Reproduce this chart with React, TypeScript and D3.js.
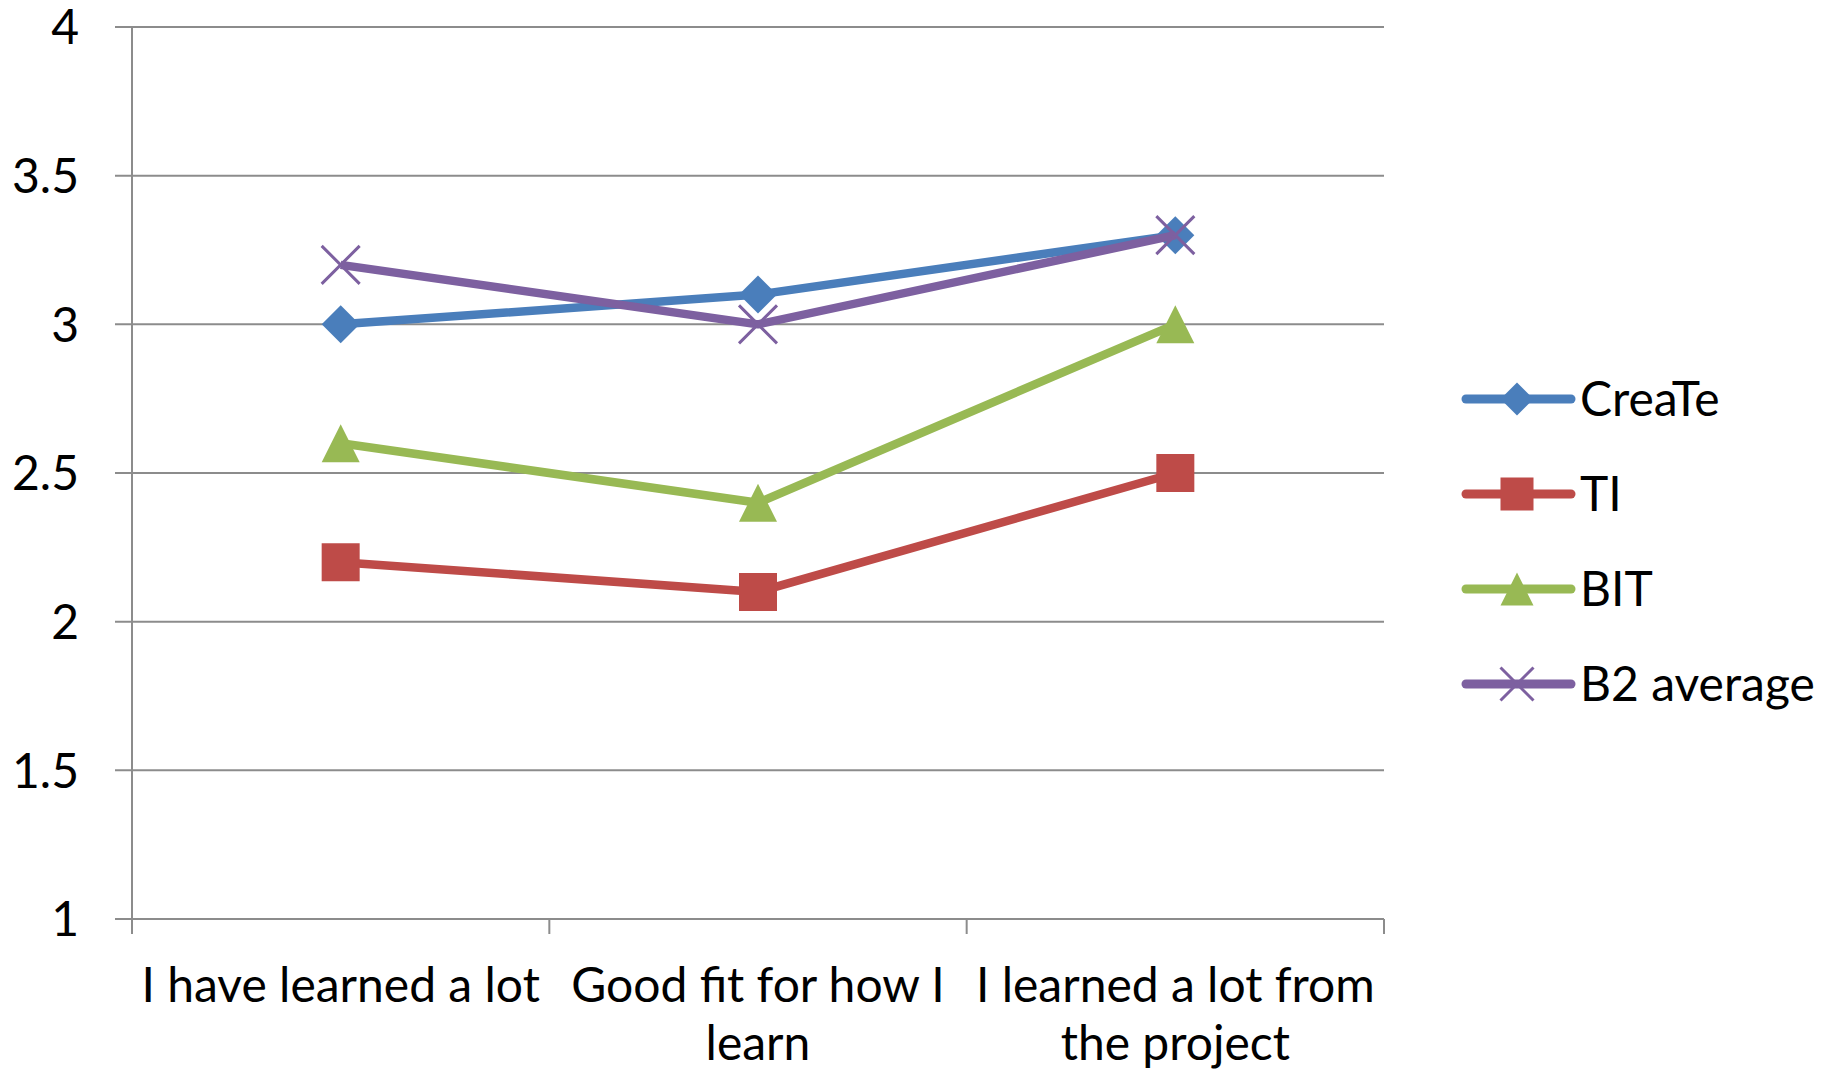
import { useEffect } from 'react'
import * as d3 from 'd3'

const CATEGORIES = ['I have learned a lot', 'Good fit for how I learn', 'I learned a lot from the project']
const CATEGORY_LINES = [['I have learned a lot'], ['Good fit for how I', 'learn'], ['I learned a lot from', 'the project']]
const CREATE = [3.0, 3.1, 3.3]
const TI = [2.2, 2.1, 2.5]
const BIT = [2.6, 2.4, 3.0]
const B2_AVERAGE = [3.2, 3.0, 3.3]
const Y_TICKS = [1, 1.5, 2, 2.5, 3, 3.5, 4]

const W = 1833
const H = 1075
const PLOT = { left: 132, right: 1384, top: 27, bottom: 919 }
const FONT = "Lato, 'Open Sans', sans-serif"
const FONT_SIZE = 48
const GRID = '#8c8c8c'

type Marker = 'diamond' | 'square' | 'triangle' | 'x'

const SERIES: { name: string; values: number[]; color: string; marker: Marker }[] = [
  { name: 'CreaTe', values: CREATE, color: '#4A7EBB', marker: 'diamond' },
  { name: 'TI', values: TI, color: '#BE4B48', marker: 'square' },
  { name: 'BIT', values: BIT, color: '#98B954', marker: 'triangle' },
  { name: 'B2 average', values: B2_AVERAGE, color: '#7D60A0', marker: 'x' },
]

function markerPath(m: Marker, s: number) {
  const r = s / 2
  if (m === 'diamond') return `M0,${-r}L${r},0L0,${r}L${-r},0Z`
  if (m === 'square') return `M${-r},${-r}H${r}V${r}H${-r}Z`
  if (m === 'triangle') return `M0,${-r}L${r},${r}L${-r},${r}Z`
  return `M${-r},${-r}L${r},${r}M${-r},${r}L${r},${-r}`
}

function MarkerShape({ m, color, size, x, y }: { m: Marker; color: string; size: number; x: number; y: number }) {
  const isX = m === 'x'
  return (
    <path
      d={markerPath(m, size)}
      transform={`translate(${x},${y})`}
      fill={isX ? 'none' : color}
      stroke={color}
      strokeWidth={isX ? 3 : 0}
    />
  )
}

export default function App() {
  useEffect(() => {
    document.body.style.margin = '0'
  }, [])

  const x = d3.scaleBand().domain(CATEGORIES).range([PLOT.left, PLOT.right])
  const y = d3.scaleLinear().domain([1, 4]).range([PLOT.bottom, PLOT.top])
  const cx = (i: number) => (x(CATEGORIES[i]) ?? 0) + x.bandwidth() / 2

  const line = d3
    .line<number>()
    .x((_, i) => cx(i))
    .y((d) => y(d))

  const boundaries = [...CATEGORIES.map((c) => x(c) ?? 0), PLOT.right]

  return (
    <svg width={W} height={H} style={{ display: 'block', background: '#fff' }} fontFamily={FONT}>
      {/* gridlines + y labels */}
      {Y_TICKS.map((t) => (
        <g key={t}>
          <line x1={PLOT.left - 17} x2={PLOT.right} y1={y(t)} y2={y(t)} stroke={GRID} strokeWidth={2} />
          <text x={79} y={y(t)} dy="0.36em" textAnchor="end" fontSize={FONT_SIZE} fill="#000">
            {t}
          </text>
        </g>
      ))}

      {/* y axis */}
      <line x1={PLOT.left} x2={PLOT.left} y1={PLOT.top} y2={PLOT.bottom} stroke={GRID} strokeWidth={2} />

      {/* x ticks */}
      {boundaries.map((bx, i) => (
        <line key={i} x1={bx} x2={bx} y1={PLOT.bottom} y2={PLOT.bottom + 15} stroke={GRID} strokeWidth={2} />
      ))}

      {/* x labels */}
      {CATEGORY_LINES.map((lines, i) => (
        <text key={i} textAnchor="middle" fontSize={FONT_SIZE} fill="#000">
          {lines.map((l, j) => (
            <tspan key={j} x={cx(i)} y={1002 + j * 58}>
              {l}
            </tspan>
          ))}
        </text>
      ))}

      {/* series */}
      {SERIES.map((s) => (
        <g key={s.name}>
          <path d={line(s.values) ?? ''} fill="none" stroke={s.color} strokeWidth={8.5} strokeLinejoin="round" />
          {s.values.map((v, i) => (
            <MarkerShape key={i} m={s.marker} color={s.color} size={38} x={cx(i)} y={y(v)} />
          ))}
        </g>
      ))}

      {/* legend */}
      {SERIES.map((s, i) => {
        const ly = 399 + i * 95
        return (
          <g key={s.name}>
            <line x1={1466} x2={1571} y1={ly} y2={ly} stroke={s.color} strokeWidth={9} strokeLinecap="round" />
            <MarkerShape m={s.marker} color={s.color} size={33} x={1517} y={ly} />
            <text x={1580} y={ly} dy="0.36em" fontSize={FONT_SIZE} fill="#000">
              {s.name}
            </text>
          </g>
        )
      })}
    </svg>
  )
}
